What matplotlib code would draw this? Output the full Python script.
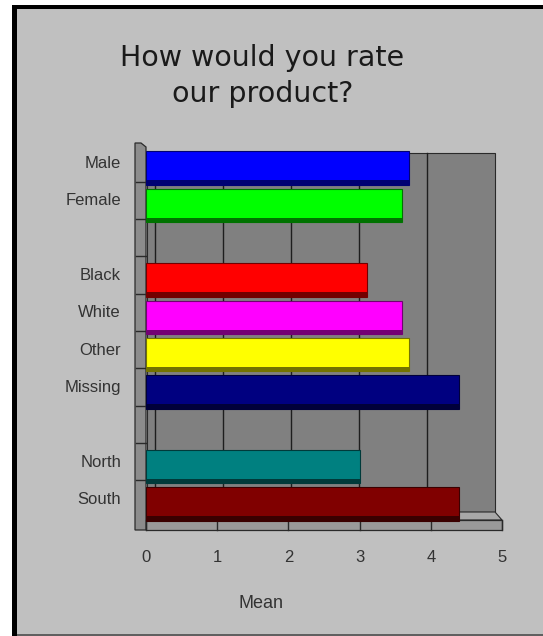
import matplotlib
matplotlib.use("Agg")
import matplotlib.pyplot as plt
from matplotlib.patches import Rectangle, Polygon
from matplotlib.transforms import ScaledTranslation
from matplotlib.colors import to_rgb

# ---------------- data ----------------
title = "How would you rate\nour product?"
groups = [["Male", "Female"], ["Black", "White", "Other", "Missing"], ["North", "South"]]
categories = ["Male", "Female", "Black", "White", "Other", "Missing", "North", "South"]
means = [3.7, 3.6, 3.1, 3.6, 3.7, 4.4, 3.0, 4.4]
colors = ["#0000ff", "#00ff00", "#ff0000", "#ff00ff", "#ffff00", "#000080", "#008080", "#800000"]
x_ticks = [0, 1, 2, 3, 4, 5]
x_label = "Mean"

plt.rcParams["font.family"] = ["Liberation Sans", "DejaVu Sans"]

W, H = 543, 636
fig = plt.figure(figsize=(W / 100, H / 100), dpi=100, facecolor="white")


def fr(x, y):
    return (x / W, 1 - y / H)


# frame / background
fig.patches.append(Rectangle(fr(12, 636), (W - 12) / W, (636 - 5) / H, transform=fig.transFigure,
                             facecolor="black", edgecolor="none", zorder=-3))
fig.patches.append(Rectangle(fr(17, 634), (W - 17) / W, (634 - 9) / H, transform=fig.transFigure,
                             facecolor="#c0c0c0", edgecolor="none", zorder=-2))
fig.patches.append(Rectangle(fr(17, 636), (W - 17) / W, 2 / H, transform=fig.transFigure,
                             facecolor="#606060", edgecolor="none", zorder=-2))

# positions with gaps between groups
pos = []
p = 0
for g in groups:
    for _ in g:
        pos.append(p)
        p += 1
    p += 1
n_slots = p - 1

left_px, right_px, top_px, bot_px = 146, 502, 149.5, 522.5
ax = fig.add_axes([left_px / W, 1 - bot_px / H, (right_px - left_px) / W, (bot_px - top_px) / H])
ax.set_xlim(x_ticks[0], x_ticks[-1])
ax.set_ylim(n_slots - 0.5, -0.5)
ax.patch.set_visible(False)
for s in ax.spines.values():
    s.set_visible(False)

ux = (right_px - left_px) / (x_ticks[-1] - x_ticks[0])
uy = (bot_px - top_px) / n_slots


def dx(px):
    return (px - left_px) / ux


def dy(py):
    return (py - top_px) / uy - 0.5


edge = "#2a2a2a"
# back wall
ax.add_patch(Rectangle((dx(147), dy(153)), dx(495) - dx(147), dy(512) - dy(153),
                       facecolor="#808080", edgecolor=edge, lw=0.8, zorder=0, clip_on=False))
for v in x_ticks[:-1]:
    xb = dx(155 + 68 * v)
    ax.plot([xb, xb], [dy(153), dy(512)], color="#1e1e1e", lw=1.0, zorder=1, clip_on=False)

# floor
ax.add_patch(Polygon([(dx(147), dy(512)), (dx(495), dy(512)), (dx(502), dy(520)), (dx(146), dy(520))],
                     closed=True, facecolor="#a8a8a8", edgecolor=edge, lw=0.8, zorder=1, clip_on=False))
ax.add_patch(Rectangle((dx(146), dy(520)), dx(502) - dx(146), dy(530) - dy(520),
                       facecolor="#9a9a9a", edgecolor=edge, lw=0.9, zorder=1, clip_on=False))
for v in x_ticks:
    ax.plot([v, v], [dy(520), dy(530)], color=edge, lw=1.0, zorder=2, clip_on=False)

# left wall
ax.add_patch(Polygon([(dx(135), dy(143)), (dx(141), dy(143)), (dx(146), dy(147)), (dx(146), dy(530)), (dx(135), dy(530))],
                     closed=True, facecolor="#8c8c8c", edgecolor=edge, lw=0.9, zorder=1, clip_on=False))
for b in range(n_slots - 1):
    y = b + 0.5 - 5 / uy
    ax.plot([dx(136), dx(146)], [y, y], color=edge, lw=1.0, zorder=2, clip_on=False)

# bars
dark = [tuple(c * 0.45 for c in to_rgb(col)) for col in colors]
ax.barh(pos, means, height=0.9, color=colors, edgecolor=dark, linewidth=0.8, zorder=3)
ax.barh([q + 0.39 for q in pos], means, height=0.12, color=dark, linewidth=0, zorder=4)

# ticks
ax.set_yticks(pos, categories)
ax.tick_params(axis="y", length=0, pad=18, labelsize=12, labelcolor="#333333")
off = ScaledTranslation(0, 6 / 100, fig.dpi_scale_trans)
for lab in ax.get_yticklabels():
    lab.set_transform(lab.get_transform() + off)
ax.set_xticks(x_ticks, [str(v) for v in x_ticks])
ax.tick_params(axis="x", length=0, pad=20, labelsize=12, labelcolor="#333333")

fig.text(261 / W, 1 - 604 / H, x_label, ha="center", va="center", fontsize=13, color="#333333")
fig.text(262.5 / W, 1 - 76 / H, title, ha="center", va="center", fontsize=20.5,
         family=["DejaVu Sans"], color="#1a1a1a", linespacing=1.32)

fig.savefig("out.png", dpi=100, facecolor=fig.get_facecolor())
